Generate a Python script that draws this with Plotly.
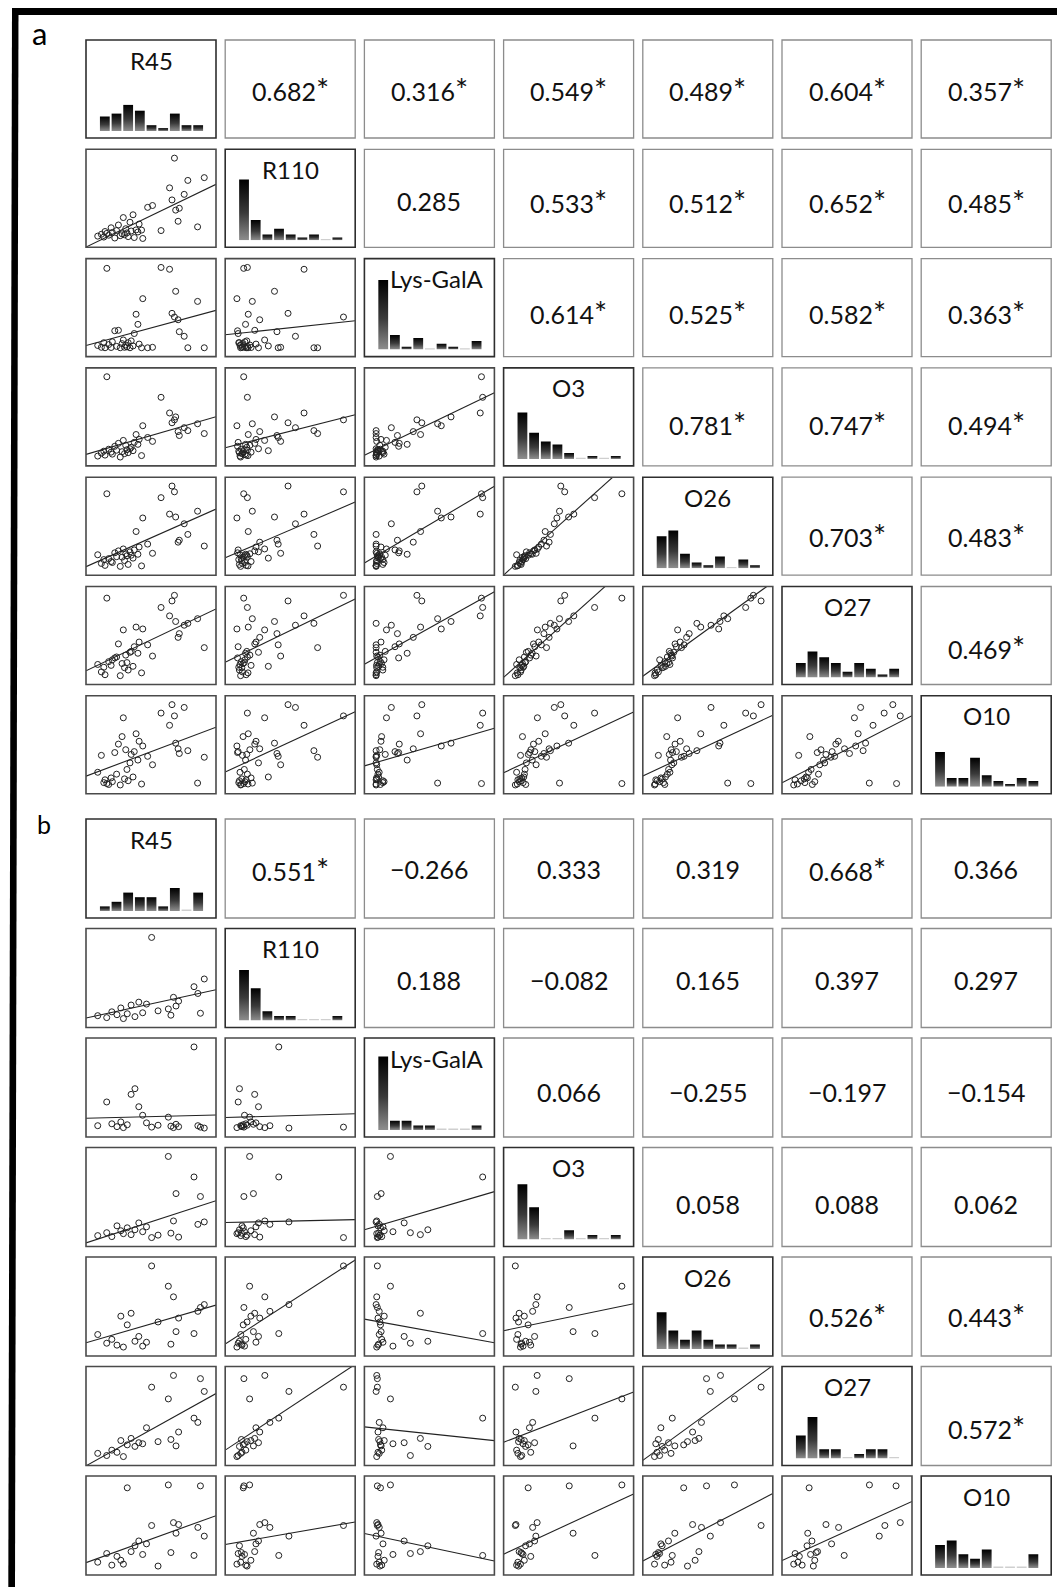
import numpy as np
import plotly.graph_objects as go

W, H = 1057, 1587

VARIABLES = ["R45", "R110", "Lys-GalA", "O3", "O26", "O27", "O10"]

# ---------------- panel a (40 samples) ----------------
a_R45 = [0.2, 0.5, 0.7, 0.8, 0.95, 1.1, 1.3, 1.4, 1.6, 1.75,
         1.9, 2.05, 2.2, 2.3, 2.4, 2.5, 2.6, 2.7, 2.85, 2.95,
         3.1, 3.2, 3.35, 3.5, 3.6, 3.8, 3.9, 4.3, 4.7, 5.4,
         6.1, 6.3, 6.5, 6.6, 6.8, 6.9, 7.3, 7.6, 8.4, 8.95]
a_R110 = [0.3, 0.5, 0.2, 0.8, 0.6, 0.4, 1.2, 0.7, 0.1, 0.9,
          1.5, 0.35, 0.55, 2.3, 0.45, 1.1, 0.65, 0.25, 1.8, 0.85,
          2.6, 0.15, 0.97, 0.75, 1.6, 0.95, 0.05, 3.4, 3.6, 0.9,
          5.5, 4.2, 8.7, 3.1, 1.9, 3.3, 4.8, 6.3, 1.3, 6.6]
a_Lys = [0.3, 0.1, 0.6, 0.05, 8.7, 0.4, 0.08, 0.7, 1.9, 0.2,
         1.95, 0.05, 0.5, 0.9, 0.1, 0.35, 0.15, 0.6, 0.05, 0.8,
         0.25, 1.6, 3.7, 2.6, 0.45, 0.05, 5.4, 0.05, 0.1, 8.8,
         8.6, 3.8, 3.4, 6.2, 3.1, 1.8, 1.3, 0.05, 5.1, 0.05]
a_O3 = [0.2, 0.5, 0.7, 0.3, 8.3, 0.9, 0.6, 0.4, 1.2, 0.8,
        1.5, 0.1, 0.65, 1.8, 0.45, 1.3, 0.85, 0.55, 0.95, 1.1,
        0.75, 1.6, 2.4, 1.4, 1.9, 0.25, 3.3, 2.1, 1.7, 6.2,
        4.6, 3.6, 3.9, 4.2, 2.7, 2.3, 3.1, 2.8, 3.5, 2.5]
a_O26 = [1.3, 0.4, 0.8, 0.2, 7.6, 0.9, 0.6, 0.5, 1.5, 1.1,
         1.7, 0.1, 1.05, 1.9, 0.7, 1.4, 1.2, 0.3, 1.6, 1.25,
         0.95, 1.8, 3.7, 1.35, 2.1, 0.15, 5.1, 2.4, 1.45, 7.2,
         5.5, 8.4, 7.8, 5.2, 2.6, 2.8, 4.5, 3.4, 5.8, 2.2]
a_O27 = [1.4, 0.6, 1.1, 0.3, 8.5, 1.7, 1.3, 1.9, 2.1, 2.2,
         3.6, 0.2, 1.5, 5.1, 1.05, 2.4, 1.6, 0.8, 2.7, 2.8,
         1.2, 3.3, 5.4, 2.6, 3.8, 0.5, 5.2, 3.5, 2.3, 7.5,
         6.6, 8.2, 8.8, 6.0, 4.3, 4.7, 5.6, 5.8, 6.3, 3.2]
a_O10 = [1.4, 3.2, 0.3, 0.6, 0.2, 0.1, 0.8, 0.4, 3.5, 1.2,
         4.4, 0.05, 5.2, 7.2, 0.7, 3.8, 1.7, 0.5, 2.4, 3.3,
         0.9, 3.6, 5.5, 2.7, 4.7, 0.15, 4.2, 3.1, 2.2, 7.7,
         6.4, 8.6, 7.4, 4.5, 3.9, 3.4, 8.3, 3.7, 0.25, 3.0]

a_corr = [[0.682, 0.316, 0.549, 0.489, 0.604, 0.357],
          [0.285, 0.533, 0.512, 0.652, 0.485],
          [0.614, 0.525, 0.582, 0.363],
          [0.781, 0.747, 0.494],
          [0.703, 0.483],
          [0.469]]
a_sig = [[True, True, True, True, True, True],
         [False, True, True, True, True],
         [True, True, True, True],
         [True, True, True],
         [True, True],
         [True]]

# ---------------- panel b (23 samples) ----------------
b_R45 = [0.6, 1.3, 1.7, 2.1, 2.4, 2.6, 2.9, 3.2, 3.5, 3.8, 4.1, 4.4,
         4.8, 5.3, 6.1, 6.3, 6.5, 6.7, 6.9, 8.1, 8.4, 8.6, 8.9]
b_R110 = [0.4, 0.2, 0.8, 0.5, 1.2, 0.1, 0.6, 1.5, 0.3, 1.8, 0.7, 1.6,
          8.5, 0.9, 1.1, 0.45, 2.3, 1.4, 1.9, 3.4, 2.7, 0.65, 4.2]
b_Lys = [0.3, 2.8, 0.5, 0.2, 0.7, 0.1, 0.4, 3.6, 4.2, 2.3, 1.4, 0.6,
         0.15, 0.35, 1.2, 0.25, 0.1, 0.45, 0.2, 8.6, 0.3, 0.15, 0.05]
b_O3 = [0.3, 0.6, 0.2, 1.3, 0.8, 0.5, 1.1, 0.4, 0.9, 1.6, 0.7, 1.2,
        0.1, 0.35, 8.4, 0.55, 1.8, 4.6, 0.15, 6.3, 1.45, 4.3, 1.7]
b_O26 = [1.4, 0.5, 0.9, 0.3, 3.3, 0.1, 2.4, 3.6, 0.7, 1.2, 0.2, 0.6,
         8.5, 2.7, 6.4, 0.4, 5.3, 1.7, 3.1, 1.5, 3.8, 4.2, 4.5]
b_O27 = [0.4, 0.2, 0.7, 0.5, 1.6, 0.1, 1.2, 1.8, 1.05, 1.4, 1.3, 2.8,
         6.6, 1.5, 5.5, 1.7, 7.7, 1.1, 2.4, 3.7, 3.3, 7.4, 6.2]
b_O10 = [0.5, 1.4, 0.2, 1.1, 0.7, 0.3, 8.2, 1.6, 2.2, 2.7, 1.3, 2.4,
         4.3, 0.1, 8.5, 1.5, 4.6, 3.5, 4.4, 1.2, 4.1, 8.4, 3.2]

b_corr = [[0.551, -0.266, 0.333, 0.319, 0.668, 0.366],
          [0.188, -0.082, 0.165, 0.397, 0.297],
          [0.066, -0.255, -0.197, -0.154],
          [0.058, 0.088, 0.062],
          [0.526, 0.443],
          [0.572]]
b_sig = [[True, False, False, False, True, False],
         [False, False, False, False, False],
         [False, False, False, False],
         [False, False, False],
         [True, True],
         [True]]

N_BINS = 9
BIN_RANGE = (0.0, 9.0)

# ---------------- layout geometry (pixels) ----------------
COL_LEFT0, COL_PITCH, CELL_W = 86.0, 139.2, 130.0
FONT = "Lato, 'Open Sans', sans-serif"

PANELS = [
    dict(label="a", data=[a_R45, a_R110, a_Lys, a_O3, a_O26, a_O27, a_O10],
         corr=a_corr, sig=a_sig, top=40.0, pitch=109.3, cell_h=98.0,
         unit=2.9, label_xy=(39, 33), label_size=31),
    dict(label="b", data=[b_R45, b_R110, b_Lys, b_O3, b_O26, b_O27, b_O10],
         corr=b_corr, sig=b_sig, top=819.0, pitch=109.5, cell_h=99.0,
         unit=4.6, label_xy=(44, 824), label_size=25),
]

fig = go.Figure()
layout_axes = {}
shapes = []
annotations = []
axis_count = [0]


def px_x(p):
    return p / W


def px_y(p):
    return 1 - p / H


def new_axes(x0, x1, ytop, ybot, xr, yr):
    axis_count[0] += 1
    n = axis_count[0]
    s = "" if n == 1 else str(n)
    layout_axes["xaxis" + s] = dict(domain=[px_x(x0), px_x(x1)], range=list(xr),
                                    visible=False, anchor="y" + s, fixedrange=True)
    layout_axes["yaxis" + s] = dict(domain=[px_y(ybot), px_y(ytop)], range=list(yr),
                                    visible=False, anchor="x" + s, fixedrange=True)
    return "x" + s, "y" + s


def padded(vals, frac=0.11):
    lo, hi = float(np.min(vals)), float(np.max(vals))
    span = hi - lo
    return (lo - frac * span, hi + frac * span)


def box(x0, y0, x1, y1, color, width):
    shapes.append(dict(type="rect", xref="paper", yref="paper",
                       x0=px_x(x0), x1=px_x(x1), y0=px_y(y1), y1=px_y(y0),
                       line=dict(color=color, width=width),
                       fillcolor="rgba(0,0,0,0)", layer="above"))


BAR_SCALE = [[0.0, "#8e8e8e"], [0.45, "#3a3a3a"], [1.0, "#000000"]]
GAP = 0.08

for P in PANELS:
    data = [np.asarray(v, dtype=float) for v in P["data"]]
    ranges = [padded(v) for v in data]
    for r in range(7):
        ytop = P["top"] + r * P["pitch"]
        ybot = ytop + P["cell_h"]
        for c in range(7):
            xl = COL_LEFT0 + c * COL_PITCH
            xr_ = xl + CELL_W
            if r == c:
                counts, _ = np.histogram(data[r], bins=N_BINS, range=BIN_RANGE)
                top_units = (P["cell_h"] - 7) / P["unit"]
                xa, ya = new_axes(xl + 13, xr_ - 12, ytop, ybot - 7,
                                  BIN_RANGE, (0, top_units))
                for k, cnt in enumerate(counts):
                    b0, b1 = k + GAP, k + 1 - GAP
                    if cnt == 0:
                        fig.add_trace(go.Scatter(
                            x=[b0, b1], y=[0.15, 0.15], mode="lines", xaxis=xa, yaxis=ya,
                            line=dict(color="#cfcfcf", width=1.6), hoverinfo="skip"))
                    else:
                        fig.add_trace(go.Scatter(
                            x=[b0, b0, b1, b1, b0], y=[0, cnt, cnt, 0, 0],
                            mode="lines", fill="toself", xaxis=xa, yaxis=ya,
                            line=dict(width=0, color="rgba(0,0,0,0)"),
                            fillgradient=dict(type="vertical", colorscale=BAR_SCALE),
                            hoverinfo="skip"))
                shift = 8 if VARIABLES[r] == "Lys-GalA" else 0
                annotations.append(dict(
                    text=VARIABLES[r], xref="paper", yref="paper",
                    x=px_x(xl + CELL_W / 2 + shift), y=px_y(ytop + 20),
                    xanchor="center", yanchor="middle", showarrow=False,
                    font=dict(family=FONT, size=24, color="#111111")))
                box(xl, ytop, xr_, ybot, "#2e2e2e", 1.6)
            elif r > c:
                xv, yv = data[c], data[r]
                xa, ya = new_axes(xl, xr_, ytop, ybot, ranges[c], ranges[r])
                fig.add_trace(go.Scatter(
                    x=xv, y=yv, mode="markers", xaxis=xa, yaxis=ya,
                    marker=dict(symbol="circle-open", size=6, color="#222222",
                                line=dict(width=1)),
                    hoverinfo="skip"))
                slope, icpt = np.polyfit(xv, yv, 1)
                lx = np.array(ranges[c])
                fig.add_trace(go.Scatter(
                    x=lx, y=slope * lx + icpt, mode="lines", xaxis=xa, yaxis=ya,
                    line=dict(color="#222222", width=1.1), hoverinfo="skip"))
                box(xl, ytop, xr_, ybot, "#4a4a4a", 1.6)
            else:
                v = P["corr"][r][c - r - 1]
                s = P["sig"][r][c - r - 1]
                txt = f"{v:.3f}".replace("-", "\u2212")
                if s:
                    txt += "<span style='font-size:31px'>*</span>"
                annotations.append(dict(
                    text=txt, xref="paper", yref="paper",
                    x=px_x(xl + CELL_W / 2), y=px_y(ytop + P["cell_h"] / 2 + 2.2 * r),
                    xanchor="center", yanchor="middle", showarrow=False,
                    font=dict(family=FONT, size=25, color="#111111")))
                box(xl, ytop, xr_, ybot, "#8c8c8c", 1.3)
    lx_, ly_ = P["label_xy"]
    annotations.append(dict(
        text=P["label"], xref="paper", yref="paper", x=px_x(lx_), y=px_y(ly_),
        xanchor="center", yanchor="middle", showarrow=False,
        font=dict(family=FONT, size=P["label_size"], color="#000000")))

# outer frame: thick top and left bars
shapes.append(dict(type="rect", xref="paper", yref="paper",
                   x0=px_x(12), x1=px_x(W), y0=px_y(15), y1=px_y(8),
                   fillcolor="#000000", line=dict(width=0), layer="above"))
path = (f"M {px_x(12)},{px_y(8)} L {px_x(18.5)},{px_y(8)} "
        f"L {px_x(15)},{px_y(H)} L {px_x(8.3)},{px_y(H)} Z")
shapes.append(dict(type="path", xref="paper", yref="paper", path=path,
                   fillcolor="#000000", line=dict(width=0), layer="above"))

fig.update_layout(layout_axes)
fig.update_layout(
    width=W, height=H, margin=dict(l=0, r=0, t=0, b=0),
    paper_bgcolor="white", plot_bgcolor="white", showlegend=False,
    shapes=shapes, annotations=annotations,
)

fig.write_html(
    "out.html",
    config={"displayModeBar": False},
    post_script="document.body.style.margin='0';document.body.style.overflow='hidden';",
)
